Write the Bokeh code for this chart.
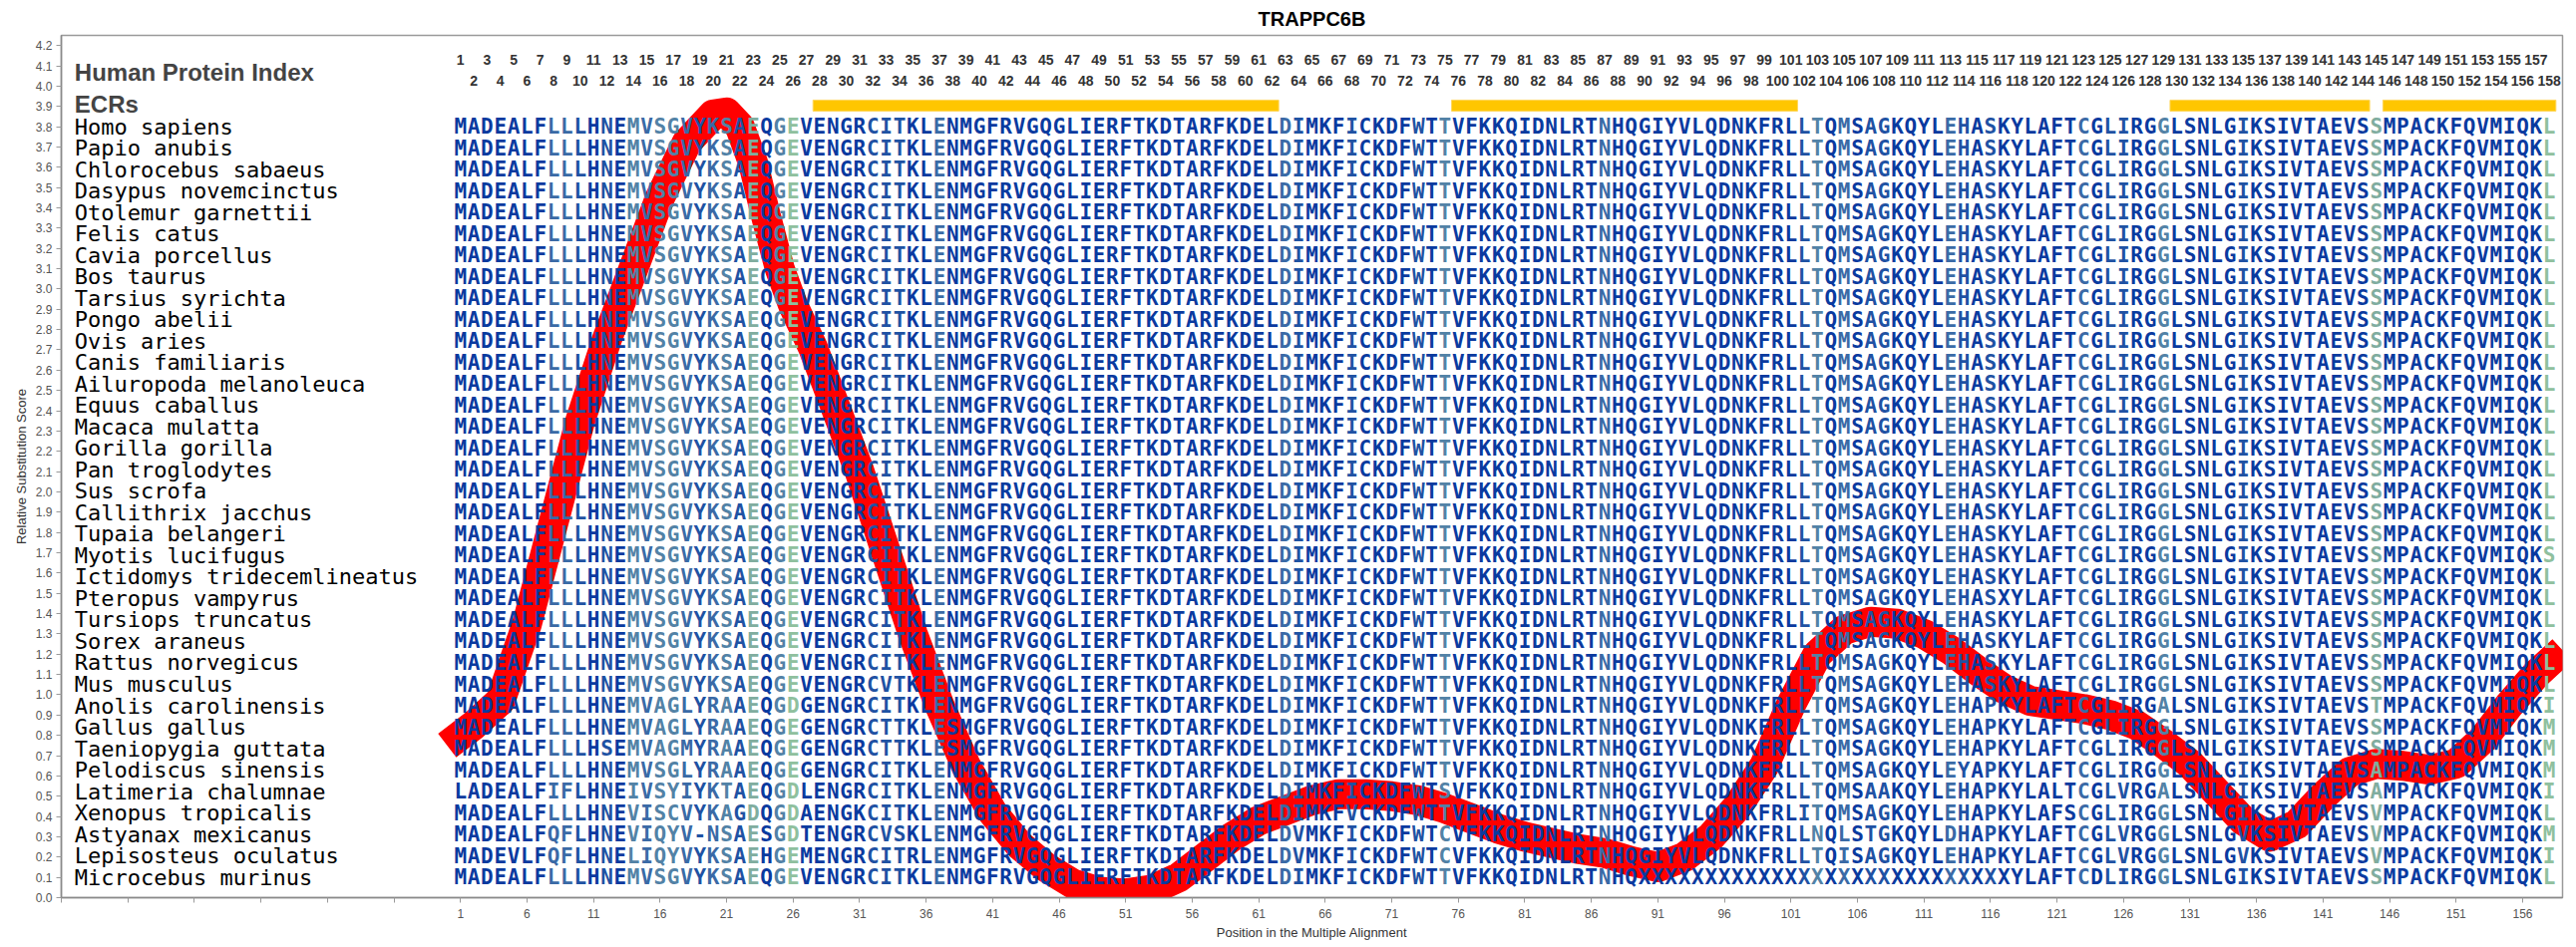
from bokeh.plotting import figure
from bokeh.models import Range1d, FixedTicker, NumeralTickFormatter, ColumnDataSource
from bokeh.core.properties import value
from bokeh.embed import file_html
from bokeh.resources import INLINE

title_text = "TRAPPC6B"

species = [
    "Homo sapiens", "Papio anubis", "Chlorocebus sabaeus", "Dasypus novemcinctus",
    "Otolemur garnettii", "Felis catus", "Cavia porcellus", "Bos taurus",
    "Tarsius syrichta", "Pongo abelii", "Ovis aries", "Canis familiaris",
    "Ailuropoda melanoleuca", "Equus caballus", "Macaca mulatta", "Gorilla gorilla",
    "Pan troglodytes", "Sus scrofa", "Callithrix jacchus", "Tupaia belangeri",
    "Myotis lucifugus", "Ictidomys tridecemlineatus", "Pteropus vampyrus",
    "Tursiops truncatus", "Sorex araneus", "Rattus norvegicus", "Mus musculus",
    "Anolis carolinensis", "Gallus gallus", "Taeniopygia guttata",
    "Pelodiscus sinensis", "Latimeria chalumnae", "Xenopus tropicalis",
    "Astyanax mexicanus", "Lepisosteus oculatus", "Microcebus murinus",
]

HS = "MADEALFLLLHNEMVSGVYKSAEQGEVENGRCITKLENMGFRVGQGLIERFTKDTARFKDELDIMKFICKDFWTTVFKKQIDNLRTNHQGIYVLQDNKFRLLTQMSAGKQYLEHASKYLAFTCGLIRGGLSNLGIKSIVTAEVSSMPACKFQVMIQKL"

sequences = [
    HS, HS, HS, HS, HS, HS, HS, HS, HS, HS, HS, HS, HS, HS, HS, HS, HS, HS, HS, HS,
    "MADEALFLLLHNEMVSGVYKSAEQGEVENGRCITKLENMGFRVGQGLIERFTKDTARFKDELDIMKFICKDFWTTVFKKQIDNLRTNHQGIYVLQDNKFRLLTQMSAGKQYLEHASKYLAFTCGLIRGGLSNLGIKSIVTAEVSSMPACKFQVMIQKS",
    HS,
    "MADEALFLLLHNEMVSGVYKSAEQGEVENGRCITKLENMGFRVGQGLIERFTKDTARFKDELDIMKFICKDFWTTVFKKQIDNLRTNHQGIYVLQDNKFRLLTQMSAGKQYLEHASXYLAFTCGLIRGGLSNLGIKSIVTAEVSSMPACKFQVMIQKL",
    HS, HS, HS,
    "MADEALFLLLHNEMVSGVYKSAEQGEVENGRCVTKLENMGFRVGQGLIERFTKDTARFKDELDIMKFICKDFWTTVFKKQIDNLRTNHQGIYVLQDNKFRLLTQMSAGKQYLEHASKYLAFTCGLIRGGLSNLGIKSIVTAEVSSMPACKFQVMIQKL",
    "MADEALFLLLHNEMVAGLYRAAEQGDGENGRCITKLENMGFRVGQGLIERFTKDTARFKDELDIMKFICKDFWTTVFKKQIDNLRTNHQGIYVLQDNKFRLLTQMSAGKQYLEHAPKYLAFTCGLIRGALSNLGIKSIVTAEVSTMPACKFQVMIQKI",
    "MADEALFLLLHNEMVAGLYRAAEQGEGENGRCTTKLESMGFRVGQGLIERFTKDTARFKDELDIMKFICKDFWTTVFKKQIDNLRTNHQGIYVLQDNKFRLLTQMSAGKQYLEHAPKYLAFTCGLIRGGLSNLGIKSIVTAEVSSMPACKFQVMIQKM",
    "MADEALFLLLHSEMVAGMYRAAEQGEGENGRCTTKLESMGFRVGQGLIERFTKDTARFKDELDIMKFICKDFWTTVFKKQIDNLRTNHQGIYVLQDNKFRLLTQMSAGKQYLEHAPKYLAFTCGLIRGGLSNLGIKSIVTAEVSSMPACKFQVMIQKM",
    "MADEALFLLLHNEMVSGLYRAAEQGEGENGRCITKLENMGFRVGQGLIERFTKDTARFKDELDIMKFICKDFWTTVFKKQIDNLRTNHQGIYVLQDNKFRLLTQMSAGKQYLEYAPKYLAFTCGLIRGGLSNLGIKSIVTAEVSAMPACKFQVMIQKM",
    "LADEALFIFLHNEIVSYIYKTAEQGDLENGRCITKLENMGFRVGQGLIERFTKDTARFKDELDIMKFICKDFWTSVFKKQIDNLRTNHQGIYVLQDNKFRLLTQMSAAKQYLEHAPKYLALTCGLVRGALSNLGIKSIVTAEVSAMPACKFQVMIQKI",
    "MADEALFLLLHNEVISCVYKAGDQGDAENGKCITKLENMGFRVGQGLIERFTKDTARFKDELDIMKFVCKDFWTTVFKKQIDNLRTNHQGIYVLQDNKFRLITQMSAGKQYLEHAPKYLAFSCGLIRGGLSNLGIKSIVTAEVSVMPACKFQVMIQKL",
    "MADEALFQFLHNEVIQYV-NSAESGDTENGRCVSKLENMGFRVGQGLIERFTKDTARFKDELDVMKFICKDFWTCVFKKQIDNLRTNHQGIYVLQDNKFRLLNQLSTGKQYLDHAPKYLAFTCGLVRGGLSNLGVKSIVTAEVSVMPACKFQVMIQKM",
    "MADEVLFQFLHNELIQYVYKSAEHGEMENGRCITRLENMGFRVGQGLIERFTKDTARFKDELDVMKFICKDFWTCVFKKQIDNLRTNHQGIYVLQDNKFRLLTQISAGKQYLEHAPKYLAFTCGLVRGGLSNLGVKSIVTAEVSVMPACKFQVMIQKI",
    "MADEALFLLLHNEMVSGVYKSAEQGEVENGRCITKLENMGFRVGQGLIERFTKDTARFKDELDIMKFICKDFWTTVFKKQIDNLRTNHQXXXXXXXXXXXXXXXXXXXXXXXXXXXXYLAFTCDLIRGGLSNLGIKSIVTAEVSSMPACKFQVMIQKL",
]

# conservation class of each alignment column (0 = fully conserved ... 5 = most variable)
column_class = (
    "0000000221010323321231403500000111002"
    "0" "000000000000000000000000" "21" "0001" "0000" "103"
    "00000000000" "2" "00000000000000" "13" "0201100002101"
    "000000" "2011003" "00000" "1" "000000000" "4" "000000000000" "5"
)
class_colors = ["#0a3a9f", "#1f52a3", "#3a6aa6", "#5282a6", "#80ad9f", "#8fc09e"]

ecr_start = [28, 76, 130, 146]
ecr_end = [62, 101, 144, 158]

curve_pos = [0, 2, 4, 6, 8, 10, 12, 14, 16, 18, 20, 21, 22, 23, 24, 25, 26, 27.5, 29, 31,
             33, 35, 37, 39, 41, 43, 45, 47, 49, 51, 53, 55, 57, 59, 61, 63, 65, 67, 69,
             71, 73, 75, 77, 79, 81, 83, 85, 87, 89, 91, 93, 95, 97, 99, 101, 103, 105,
             107, 109, 111, 113, 115, 117, 119, 121, 123, 125, 127, 129, 131, 133, 135,
             137, 139, 141, 143, 145, 147, 149, 151, 153, 155, 157, 159]
curve_score = [0.75, 0.85, 0.97, 1.35, 1.85, 2.35, 2.75, 3.1, 3.45, 3.72, 3.86, 3.87, 3.80,
               3.62, 3.35, 3.10, 2.92, 2.71, 2.45, 2.10, 1.70, 1.30, 0.95, 0.65, 0.42,
               0.26, 0.15, 0.07, 0.03, 0.02, 0.04, 0.10, 0.20, 0.30, 0.38, 0.43, 0.48,
               0.51, 0.51, 0.50, 0.48, 0.44, 0.39, 0.34, 0.30, 0.27, 0.24, 0.22, 0.18,
               0.15, 0.20, 0.30, 0.45, 0.65, 0.95, 1.20, 1.32, 1.36, 1.35, 1.30, 1.22,
               1.12, 1.03, 0.97, 0.95, 0.93, 0.90, 0.85, 0.76, 0.66, 0.52, 0.38, 0.30,
               0.36, 0.50, 0.62, 0.66, 0.65, 0.63, 0.66, 0.78, 0.95, 1.10, 1.22]

y_ticks = [round(0.1 * i, 1) for i in range(43)]
x_ticks = list(range(-29, 160, 5))

SANS = "Liberation Sans"

p = figure(width=2583, height=950, x_range=Range1d(-29, 159), y_range=Range1d(0, 4.25),
           output_backend="svg", toolbar_location=None,
           min_border_left=61, min_border_right=14, min_border_top=35, min_border_bottom=50)
p.grid.visible = False
p.outline_line_color = "#9a9a9a"
p.outline_line_width = 1.5
p.background_fill_color = "white"

p.title.text = title_text
p.title.align = "center"
p.title.text_font = SANS
p.title.text_font_size = "20px"
p.title.text_font_style = "bold"
p.title.text_color = "black"
p.title.standoff = 11

# axes
p.xaxis.ticker = FixedTicker(ticks=x_ticks)
p.xaxis.major_label_overrides = {t: "" for t in x_ticks if t < 1}
p.xaxis.axis_label = "Position in the Multiple Alignment"
p.yaxis.ticker = FixedTicker(ticks=y_ticks)
p.yaxis.formatter = NumeralTickFormatter(format="0.0")
p.yaxis.axis_label = "Relative Substitution Score"
for ax in (p.xaxis, p.yaxis):
    ax.minor_tick_line_color = None
    ax.axis_line_color = "#8a8a8a"
    ax.axis_line_width = 1.5
    ax.major_tick_line_color = "#9a9a9a"
    ax.major_tick_out = 5
    ax.major_tick_in = 0
    ax.major_label_text_font = SANS
    ax.major_label_text_color = "#555555"
    ax.major_label_text_font_size = "12px"
    ax.axis_label_text_font = SANS
    ax.axis_label_text_font_style = "normal"
    ax.axis_label_text_color = "#333333"
    ax.axis_label_text_font_size = "13px"
    ax.axis_label_standoff = 4
    ax.major_label_standoff = 4
p.xaxis.major_label_standoff = 6

# ECR bars
p.quad(left=[s - 0.5 for s in ecr_start], right=[e + 0.5 for e in ecr_end],
       bottom=3.877, top=3.931, fill_color="#ffc600", line_color="#ffd65a", line_width=1)

# substitution score curve
p.line(curve_pos, curve_score, line_color="#ff0000", line_width=30,
       line_join="round", line_cap="butt")

# alignment letters
n = len(species)
row_y = [3.8 - i * (3.7 / (n - 1)) for i in range(n)]
xs, ys, ts, cs = [], [], [], []
for i, seq in enumerate(sequences):
    for j, ch in enumerate(seq):
        xs.append(j + 1)
        ys.append(row_y[i])
        ts.append(ch)
        cs.append(class_colors[int(column_class[j])])
src = ColumnDataSource(dict(x=xs, y=ys, t=ts, c=cs))
p.text(x="x", y="y", text="t", text_color="c", source=src,
       text_font=value("DejaVu Sans Mono"), text_font_style="bold",
       text_font_size="21px", text_align="center", text_baseline="middle")

# species names
p.text(x=[-28] * n, y=row_y, text=species, text_color="black",
       text_font=value("DejaVu Sans Mono"), text_font_size="22px",
       text_align="left", text_baseline="middle")

# header: protein index numbers
L = len(HS)
odd = [k for k in range(1, L + 1) if k % 2 == 1]
even = [k for k in range(1, L + 1) if k % 2 == 0]
p.text(x=odd, y=[4.128] * len(odd), text=[str(k) for k in odd], text_color="#333333",
       text_font=value(SANS), text_font_style="bold", text_font_size="14px",
       text_align="center", text_baseline="middle")
p.text(x=even, y=[4.027] * len(even), text=[str(k) for k in even], text_color="#333333",
       text_font=value(SANS), text_font_style="bold", text_font_size="14px",
       text_align="center", text_baseline="middle")

p.text(x=[-28], y=[4.068], text=["Human Protein Index"], text_color="#444444",
       text_font=value(SANS), text_font_style="bold", text_font_size="24px",
       text_align="left", text_baseline="middle")
p.text(x=[-28], y=[3.913], text=["ECRs"], text_color="#444444",
       text_font=value(SANS), text_font_style="bold", text_font_size="24px",
       text_align="left", text_baseline="middle")

open("out.html", "w").write(file_html(p, INLINE))
